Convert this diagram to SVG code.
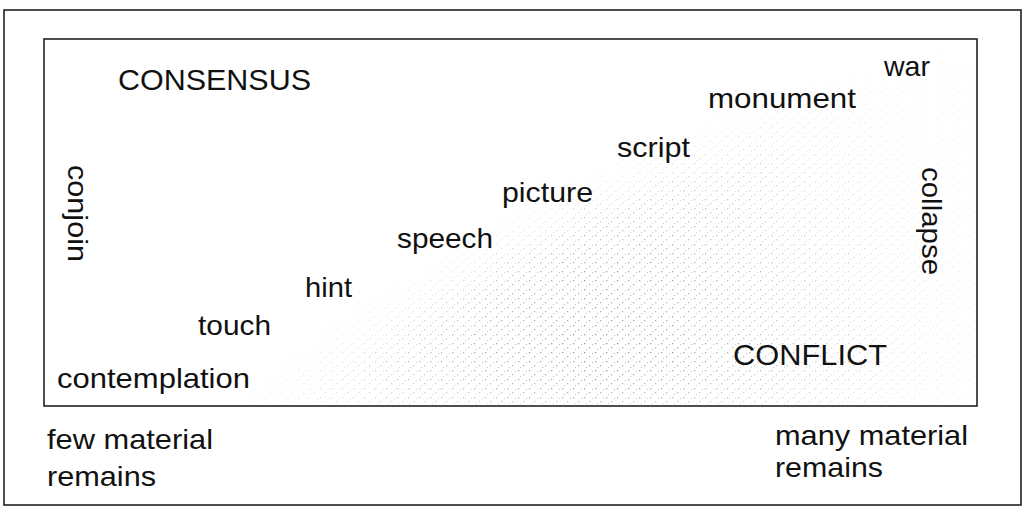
<svg xmlns="http://www.w3.org/2000/svg" width="1026" height="512" viewBox="0 0 1026 512">
<style>
.t{font-family:"Liberation Sans",Arial,Helvetica,sans-serif;font-size:28px;fill:#111}
.c{font-family:"Liberation Sans",Arial,Helvetica,sans-serif;font-size:30px;fill:#111}
.frame{fill:none;stroke:#222;stroke-width:1.6}
</style>
<defs>
<pattern id="dots" width="11" height="9" patternUnits="userSpaceOnUse">
<rect x="1" y="1" width="1.3" height="1.3" fill="#888"/>
<rect x="6" y="5" width="1.3" height="1.3" fill="#999"/>
<rect x="3" y="7" width="1" height="1" fill="#aaa"/>
<rect x="9" y="2" width="1" height="1" fill="#aaa"/>
</pattern>
<radialGradient id="g" cx="600" cy="350" r="380" gradientUnits="userSpaceOnUse">
<stop offset="0" stop-color="#fff" stop-opacity="0.9"/>
<stop offset="0.45" stop-color="#fff" stop-opacity="0.55"/>
<stop offset="0.8" stop-color="#fff" stop-opacity="0.25"/>
<stop offset="1" stop-color="#fff" stop-opacity="0.1"/>
</radialGradient>
<filter id="blur" x="-20%" y="-20%" width="140%" height="140%"><feGaussianBlur stdDeviation="25"/></filter>
<mask id="m"><polygon points="200,420 420,300 560,220 700,150 900,50 1000,30 1000,420" fill="url(#g)" filter="url(#blur)"/></mask>
</defs>
<rect class="frame" x="4" y="10" width="1017" height="495"/>
<rect x="44" y="39" width="933" height="367" fill="url(#dots)" mask="url(#m)"/>
<rect class="frame" x="44" y="39" width="933" height="367"/>
<g id="consensus"><text class="c" x="118" y="90" textLength="193" lengthAdjust="spacingAndGlyphs">CONSENSUS</text></g>
<g id="war"><text class="t" x="884" y="76" textLength="46" lengthAdjust="spacingAndGlyphs">war</text></g>
<g id="monument"><text class="t" x="708" y="108" textLength="148" lengthAdjust="spacingAndGlyphs">monument</text></g>
<g id="script"><text class="t" x="617" y="157" textLength="73" lengthAdjust="spacingAndGlyphs">script</text></g>
<g id="picture"><text class="t" x="502" y="202" textLength="91" lengthAdjust="spacingAndGlyphs">picture</text></g>
<g id="speech"><text class="t" x="397" y="248" textLength="96" lengthAdjust="spacingAndGlyphs">speech</text></g>
<g id="hint"><text class="t" x="305" y="297" textLength="47" lengthAdjust="spacingAndGlyphs">hint</text></g>
<g id="touch"><text class="t" x="198" y="335" textLength="73" lengthAdjust="spacingAndGlyphs">touch</text></g>
<g id="contemplation"><text class="t" x="57" y="388" textLength="193" lengthAdjust="spacingAndGlyphs">contemplation</text></g>
<g id="conflict"><text class="c" x="733" y="365" textLength="154" lengthAdjust="spacingAndGlyphs">CONFLICT</text></g>
<g id="conjoin"><text class="t" transform="translate(68,165) rotate(90)" textLength="97" lengthAdjust="spacingAndGlyphs">conjoin</text></g>
<g id="collapse"><text class="t" transform="translate(922,167) rotate(90)" textLength="108" lengthAdjust="spacingAndGlyphs">collapse</text></g>
<g id="few"><text class="t" x="47" y="449" textLength="166" lengthAdjust="spacingAndGlyphs">few material</text><text class="t" x="47" y="486" textLength="109" lengthAdjust="spacingAndGlyphs">remains</text></g>
<g id="many"><text class="t" x="775" y="445" textLength="193" lengthAdjust="spacingAndGlyphs">many material</text><text class="t" x="775" y="477" textLength="108" lengthAdjust="spacingAndGlyphs">remains</text></g>
<g id="connectors"></g>
</svg>
